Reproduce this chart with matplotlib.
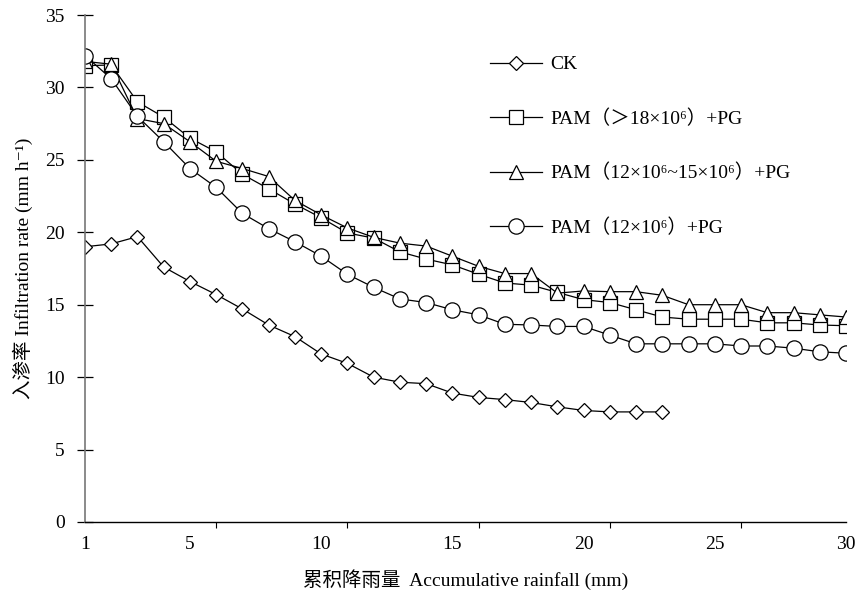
"""
入渗率随累积降雨量变化曲线
"""

import numpy as np
import matplotlib
matplotlib.use("Agg")
import matplotlib.pyplot as plt

# ---------------------------
# 数据
# ---------------------------
rain_ck = np.arange(1, 24)
rain_pam = np.arange(1, 31)

ck = [19.0, 19.2, 19.7, 17.6, 16.6, 15.7, 14.7, 13.6, 12.8, 11.6,
      10.95, 10.0, 9.65, 9.55, 8.9, 8.6, 8.45, 8.25, 7.95, 7.7,
      7.6, 7.6, 7.6]

pam_18 = [31.5, 31.55, 29.0, 27.95, 26.5, 25.55, 24.0, 23.0, 21.95, 21.0,
          19.95, 19.6, 18.65, 18.15, 17.75, 17.1, 16.5, 16.35, 15.85, 15.35,
          15.15, 14.65, 14.15, 14.0, 14.0, 14.0, 13.75, 13.75, 13.6, 13.55]

pam_12_15 = [31.8, 31.6, 27.85, 27.5, 26.25, 24.9, 24.4, 23.85, 22.2, 21.2,
             20.3, 19.65, 19.25, 19.05, 18.35, 17.65, 17.15, 17.15, 15.8, 15.95,
             15.9, 15.9, 15.65, 15.0, 15.0, 15.0, 14.45, 14.45, 14.3, 14.15]

pam_12 = [32.2, 30.6, 28.0, 26.25, 24.4, 23.1, 21.3, 20.25, 19.35, 18.35,
          17.1, 16.2, 15.4, 15.15, 14.65, 14.3, 13.65, 13.6, 13.5, 13.5,
          12.9, 12.3, 12.3, 12.3, 12.3, 12.15, 12.15, 12.0, 11.75, 11.65]

labels = ["CK",
          "PAM（＞18×10⁶）+PG",
          "PAM（12×10⁶~15×10⁶）+PG",
          "PAM（12×10⁶）+PG"]

x_labels = [1, 5, 10, 15, 20, 25, 30]
x_marks = [6, 11, 16, 21, 26]
y_ticks = np.arange(0, 36, 5)

# ---------------------------
# 字体
# ---------------------------
plt.rcParams['font.family'] = ['Liberation Serif', 'Noto Sans CJK SC', 'DejaVu Sans']

# ---------------------------
# 绘图
# ---------------------------
fig = plt.figure(figsize=(8.62, 5.98), dpi=100)
ax = fig.add_axes([85 / 862, 1 - 522 / 598, (846 - 85) / 862, (522 - 15) / 598])

style = dict(color="black", lw=0.9, mfc="white", mec="black", mew=0.9)
ax.plot(rain_ck, ck, marker="D", ms=7.5, label=labels[0], **style)
ax.plot(rain_pam, pam_18, marker="s", ms=9.5, label=labels[1], **style)
ax.plot(rain_pam, pam_12_15, marker="^", ms=10.5, label=labels[2], **style)
ax.plot(rain_pam, pam_12, marker="o", ms=11, label=labels[3], **style)

ax.set_xlim(1, 30)
ax.set_ylim(0, 35)

# 刻度
ax.set_xticks(x_marks)
ax.set_xticklabels([])
ax.set_xticks(x_labels, minor=True)
ax.set_xticklabels([str(v) for v in x_labels], minor=True)
ax.tick_params(axis="x", which="major", direction="out", length=4, width=0.8)
ax.tick_params(axis="x", which="minor", length=0, pad=10, labelsize=14)
ax.set_yticks(y_ticks)
ax.tick_params(axis="y", direction="inout", length=11, width=0.9, pad=9, labelsize=14)

for s in ["top", "right"]:
    ax.spines[s].set_visible(False)
ax.spines["left"].set_color("#777777")
ax.spines["left"].set_linewidth(1.2)
ax.spines["bottom"].set_linewidth(1.0)

ax.set_xlabel("累积降雨量  Accumulative rainfall (mm)", fontsize=14, labelpad=12)
ax.set_ylabel("入渗率 Infiltration rate (mm h⁻¹)", fontsize=14, labelpad=9)

ax.legend(loc="upper left", bbox_to_anchor=(482 / 862, 1 - 48 / 598),
          bbox_transform=fig.transFigure, frameon=False, fontsize=14,
          handlelength=2.7, handletextpad=0.4, labelspacing=1.85,
          borderaxespad=0)

fig.savefig("out.png", dpi=100)
